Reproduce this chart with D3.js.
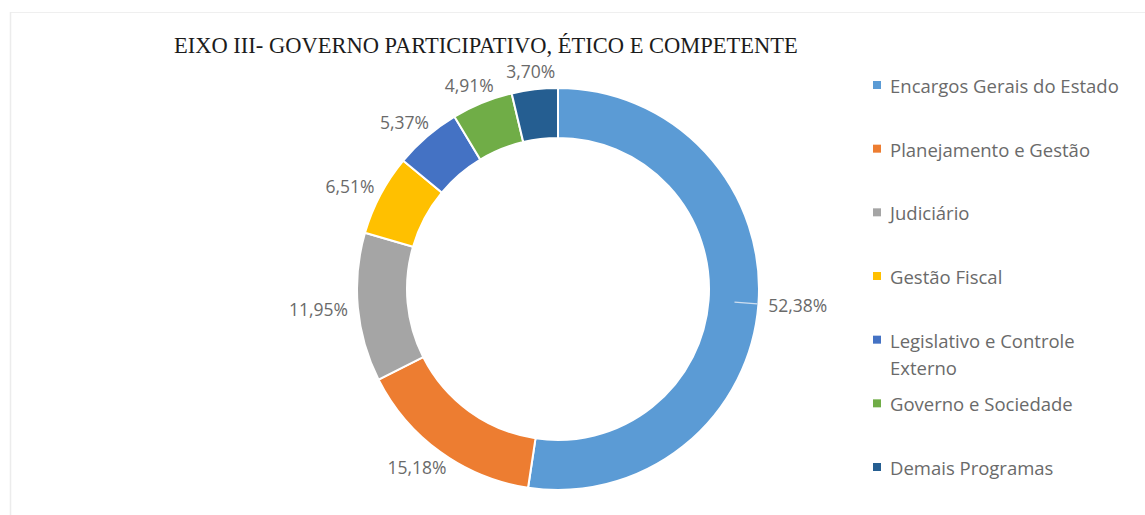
<!DOCTYPE html>
<html>
<head>
<meta charset="utf-8">
<script src="https://cdn.jsdelivr.net/npm/d3@7"></script>
<style>
  body { margin: 0; background: #fff; }
  svg { display: block; }
</style>
</head>
<body>
<svg id="chart" width="1145" height="515"></svg>
<script>
// Chart content
const chartTitle = "EIXO III- GOVERNO PARTICIPATIVO, ÉTICO E COMPETENTE";
const categories = [
  "Encargos Gerais do Estado",
  "Planejamento e Gestão",
  "Judiciário",
  "Gestão Fiscal",
  "Legislativo e Controle Externo",
  "Governo e Sociedade",
  "Demais Programas"
];
const shares = [52.38, 15.18, 11.95, 6.51, 5.37, 4.91, 3.70];
const sliceColors = ["#5B9BD5", "#ED7D31", "#A5A5A5", "#FFC000", "#4472C4", "#70AD47", "#255E91"];

// Layout
const W = 1145, H = 515;
const cx = 558, cy = 289;
const outerR = 201, innerR = 151;
const labelGap = 10;
const legendX = 873, legendTop = 85, legendBottom = 467, legendWrap = 250;
const textFont = "'Open Sans', 'Noto Sans', sans-serif";

const svg = d3.select("#chart");

// faint frame edges
svg.append("line").attr("x1", 10).attr("x2", W).attr("y1", 12.5).attr("y2", 12.5)
  .attr("stroke", "#efefef").attr("stroke-width", 1);
svg.append("line").attr("x1", 10.5).attr("x2", 10.5).attr("y1", 12).attr("y2", H)
  .attr("stroke", "#ececec").attr("stroke-width", 1.5);

// title
svg.append("text")
  .attr("x", 174).attr("y", 53)
  .attr("font-family", "'Liberation Serif', 'DejaVu Serif', serif")
  .attr("font-size", 22.5)
  .attr("fill", "#1c1c1c")
  .text(chartTitle);

const data = categories.map((name, i) => ({ name, value: shares[i], color: sliceColors[i] }));
const pie = d3.pie().sort(null).value(d => d.value);
const arcs = pie(data);
const arc = d3.arc().innerRadius(innerR).outerRadius(outerR);

const ring = svg.append("g").attr("transform", `translate(${cx},${cy})`);
ring.selectAll("path.slice")
  .data(arcs)
  .join("path")
  .attr("class", "slice")
  .attr("d", arc)
  .attr("fill", d => d.data.color)
  .attr("stroke", "#fff")
  .attr("stroke-width", 2);

// leader line of the largest slice label
const mid = d => (d.startAngle + d.endAngle) / 2;
const big = arcs[0];
ring.append("line")
  .attr("x1", Math.sin(mid(big)) * (outerR - 24))
  .attr("y1", -Math.cos(mid(big)) * (outerR - 24))
  .attr("x2", Math.sin(mid(big)) * (outerR - 1))
  .attr("y2", -Math.cos(mid(big)) * (outerR - 1))
  .attr("stroke", "#cfdff0")
  .attr("stroke-width", 1.3);

// percentage labels, pushed outward from the ring
const ptBR = d3.formatLocale({ decimal: ",", thousands: ".", grouping: [3], currency: ["R$", ""] });
const fmt = ptBR.format(".2f");
const labelH = 18;
ring.selectAll("text.pct")
  .data(arcs)
  .join("text")
  .attr("class", "pct")
  .attr("font-family", textFont)
  .attr("font-size", 17.5)
  .attr("fill", "#6a6a6a")
  .attr("text-anchor", "middle")
  .attr("dominant-baseline", "central")
  .text(d => fmt(d.data.value) + "%")
  .each(function (d) {
    const a = mid(d);
    const w = this.getComputedTextLength();
    const r = outerR + labelGap;
    const x = Math.sin(a) * r + Math.sin(a) * w / 2;
    const y = -Math.cos(a) * r - Math.cos(a) * labelH / 2;
    d3.select(this).attr("x", x).attr("y", y);
  });

// legend
const ly = d3.scalePoint().domain(categories).range([legendTop, legendBottom]);
const legend = svg.append("g");
const items = legend.selectAll("g.item")
  .data(data)
  .join("g")
  .attr("class", "item")
  .attr("transform", d => `translate(${legendX},${ly(d.name)})`);

items.append("rect")
  .attr("x", 0).attr("y", -4)
  .attr("width", 8).attr("height", 8)
  .attr("fill", d => d.color);

items.each(function (d) {
  const g = d3.select(this);
  const t = g.append("text")
    .attr("x", 17).attr("y", 0)
    .attr("font-family", textFont)
    .attr("font-size", 18.5)
    .attr("fill", "#6a6a6a")
    .attr("dominant-baseline", "central");
  // simple word wrap
  const words = d.name.split(" ");
  let line = [];
  let tspan = t.append("tspan").attr("x", 17).attr("dy", 0);
  for (const w of words) {
    line.push(w);
    tspan.text(line.join(" "));
    if (tspan.node().getComputedTextLength() > legendWrap && line.length > 1) {
      line.pop();
      tspan.text(line.join(" "));
      line = [w];
      tspan = t.append("tspan").attr("x", 17).attr("dy", 27).text(w);
    }
  }
});
</script>
</body>
</html>
